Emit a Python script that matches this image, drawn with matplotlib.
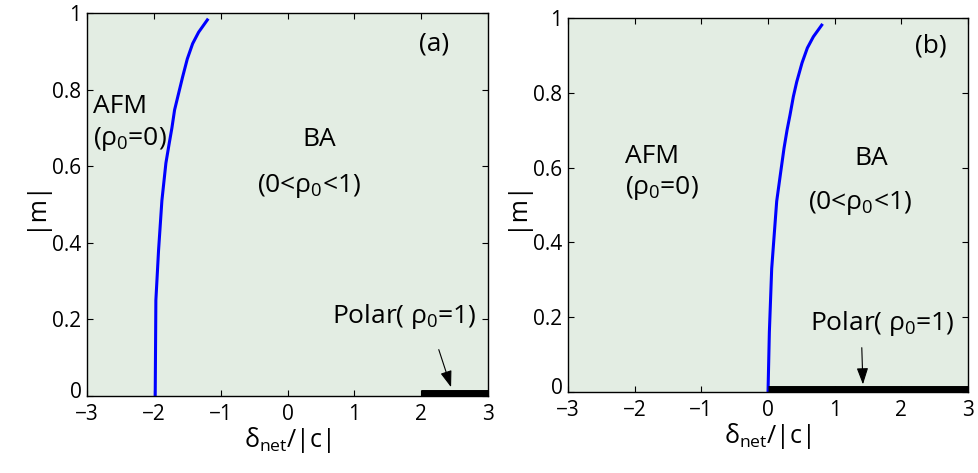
import matplotlib
matplotlib.use("Agg")
import matplotlib.pyplot as plt
from matplotlib.transforms import ScaledTranslation

plt.rcParams['font.family'] = ['Open Sans', 'DejaVu Sans']
plt.rcParams['mathtext.fontset'] = 'custom'
plt.rcParams['mathtext.rm'] = 'Open Sans'
plt.rcParams['mathtext.it'] = 'Open Sans'
plt.rcParams['mathtext.bf'] = 'Open Sans:bold'
plt.rcParams['axes.unicode_minus'] = True

# phase boundary AFM / BA
m_a = [0.0, 0.25, 0.38, 0.51, 0.608, 0.66, 0.70, 0.747, 0.79, 0.833, 0.88, 0.92, 0.95, 0.982]
d_a = [-1.98, -1.97, -1.93, -1.88, -1.82, -1.77, -1.73, -1.69, -1.63, -1.57, -1.50, -1.42, -1.33, -1.20]
m_b = [0.0, 0.16, 0.33, 0.51, 0.588, 0.652, 0.70, 0.741, 0.79, 0.829, 0.88, 0.92, 0.95, 0.981]
d_b = [0.0, 0.02, 0.055, 0.13, 0.19, 0.24, 0.285, 0.33, 0.38, 0.43, 0.51, 0.59, 0.68, 0.805]

# polar segment on m = 0
polar_a = [2.0, 3.0]
polar_b = [0.0, 3.0]

xticks = [-3, -2, -1, 0, 1, 2, 3]
yticks = [0, 0.2, 0.4, 0.6, 0.8, 1]
ylabels = ['0', '0.2', '0.4', '0.6', '0.8', '1']

bg = '#e3ede3'
fs = 19

fig = plt.figure(figsize=(9.79, 4.73), dpi=100)
ax1 = fig.add_axes([0.0889, 0.1628, 0.4096, 0.8097])
ax2 = fig.add_axes([0.5802, 0.1712, 0.4086, 0.7907])

panels = [
    (ax1, d_a, m_a, polar_a, '(a)',
     dict(afm=(-2.91, 0.739), afm2=(-2.91, 0.655), ba=(0.22, 0.653), ba2=(-0.455, 0.533),
          lab=(1.96, 0.903), pol=(0.67, 0.19), arr=((2.25, 0.128), (2.46, 0.016)))),
    (ax2, d_b, m_b, polar_b, '(b)',
     dict(afm=(-2.145, 0.612), afm2=(-2.145, 0.53), ba=(1.30, 0.607), ba2=(0.6, 0.49),
          lab=(2.2, 0.909), pol=(0.63, 0.166), arr=((1.405, 0.126), (1.425, 0.013)))),
]

for ax, d, m, polar, tag, pos in panels:
    ax.set_facecolor(bg)
    ax.plot(d, m, color='#0000ff', lw=2.2)
    ax.plot(polar, [0.008, 0.008], color='black', lw=5, solid_capstyle='butt', clip_on=False)
    ax.set_xlim(-3, 3)
    ax.set_ylim(0, 1)
    ax.set_xticks(xticks)
    ax.set_yticks(yticks)
    ax.set_yticklabels(ylabels)
    ax.tick_params(direction='in', top=True, right=True, labelsize=15, length=4, width=0.8, pad=4)
    ax.tick_params(axis='x', pad=6)
    # lift the "0" on the y axis a little so it clears the "-3" below it
    lab0 = ax.get_yticklabels()[0]
    lab0.set_transform(lab0.get_transform() + ScaledTranslation(0, 4 / 72, fig.dpi_scale_trans))
    for s in ax.spines.values():
        s.set_linewidth(1.0)
    ax.set_xlabel(r'$\delta_{\mathrm{net}}\mathrm{/|c|}$', fontsize=18, labelpad=0)
    ax.set_ylabel('|m|', fontsize=18, labelpad=4)

    ax.text(*pos['afm'], 'AFM', fontsize=fs, va='baseline')
    ax.text(*pos['afm2'], r'($\rho_0$=0)', fontsize=fs, va='baseline')
    ax.text(*pos['ba'], 'BA', fontsize=fs, va='baseline')
    ax.text(*pos['ba2'], r'(0<$\rho_0$<1)', fontsize=fs, va='baseline')
    ax.text(*pos['lab'], tag, fontsize=fs, va='baseline')
    ax.text(*pos['pol'], r'Polar( $\rho_0$=1)', fontsize=fs, va='baseline')
    tail, tip = pos['arr']
    ax.annotate('', xy=tip, xytext=tail,
                arrowprops=dict(arrowstyle='-|>,head_length=1.0,head_width=0.35',
                                color='black', lw=0.8))

fig.savefig('out.png', dpi=100)
